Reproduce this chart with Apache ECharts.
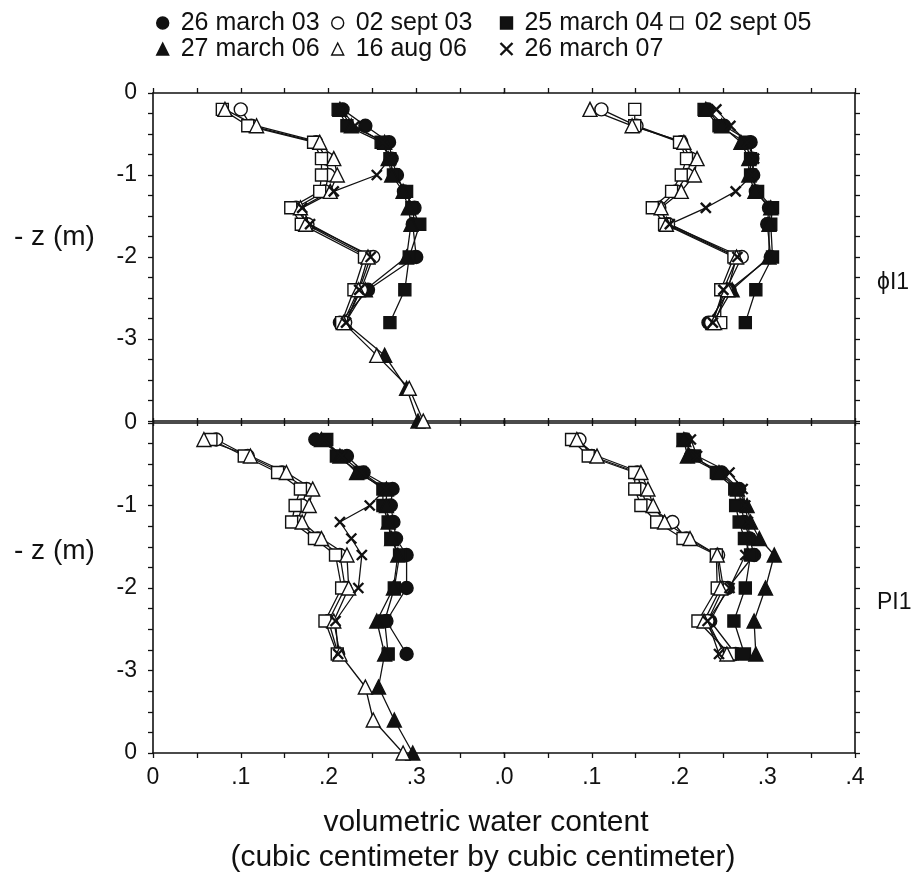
<!DOCTYPE html>
<html>
<head>
<meta charset="utf-8">
<script src="https://cdn.jsdelivr.net/npm/echarts@6/dist/echarts.min.js"></script>
<style>
  html, body { margin: 0; padding: 0; background: #fff; }
  #chart { width: 920px; height: 874px; }
</style>
</head>
<body>
<div id="chart"></div>
<script>
// survey dates (legend order)
const dates = ['26 march 03', '02 sept 03', '25 march 04', '02 sept 05', '27 march 06', '16 aug 06', '26 march 07'];
// probe depths in m
const depths = [0.2, 0.4, 0.6, 0.8, 1.0, 1.2, 1.4, 1.6, 2.0, 2.4, 2.8, 3.2, 3.6, 4.0];
const xTicks = ['0', '.1', '.2', '.3', '.4'];

// volumetric water content, one row per date (same order as dates)
// top panel, left profile
const phiLeft = [
  [0.216, 0.242, 0.269, 0.272, 0.278, 0.286, 0.298, 0.296, 0.300, 0.245, 0.213],
  [0.100, 0.112, 0.186, 0.198, 0.200, 0.196, 0.163, 0.176, 0.251, 0.237, 0.219],
  [0.211, 0.221, 0.260, 0.270, 0.274, 0.289, 0.295, 0.304, 0.292, 0.287, 0.270],
  [0.079, 0.108, 0.183, 0.192, 0.192, 0.190, 0.157, 0.169, 0.241, 0.229, 0.215],
  [0.213, 0.226, 0.264, 0.268, 0.272, 0.285, 0.291, 0.294, 0.289, 0.242, 0.219, 0.264, 0.289, 0.302],
  [0.082, 0.118, 0.190, 0.206, 0.210, 0.202, 0.168, 0.174, 0.245, 0.234, 0.217, 0.255, 0.292, 0.308],
  [0.215, 0.230, 0.262, 0.270, 0.255, 0.206, 0.170, 0.179, 0.248, 0.235, 0.220]
];
// top panel, right profile
const phiRight = [
  [0.232, 0.251, 0.281, 0.283, 0.284, 0.287, 0.302, 0.300, 0.304, 0.257, 0.233],
  [0.111, 0.151, 0.202, 0.213, 0.209, 0.196, 0.177, 0.187, 0.271, 0.253, 0.236],
  [0.228, 0.245, 0.275, 0.281, 0.281, 0.289, 0.306, 0.304, 0.306, 0.287, 0.275],
  [0.149, 0.149, 0.200, 0.208, 0.202, 0.191, 0.169, 0.183, 0.262, 0.247, 0.247],
  [0.230, 0.248, 0.270, 0.279, 0.279, 0.286, 0.304, 0.302, 0.302, 0.260, 0.238],
  [0.098, 0.146, 0.205, 0.220, 0.217, 0.202, 0.179, 0.185, 0.265, 0.255, 0.240],
  [0.242, 0.258, 0.277, 0.285, 0.283, 0.264, 0.230, 0.189, 0.266, 0.250, 0.238]
];
// bottom panel, left profile
const plLeft = [
  [0.185, 0.221, 0.240, 0.273, 0.271, 0.274, 0.277, 0.289, 0.289, 0.266, 0.289],
  [0.072, 0.108, 0.147, 0.175, 0.170, 0.165, 0.188, 0.213, 0.219, 0.200, 0.211],
  [0.198, 0.209, 0.236, 0.262, 0.262, 0.268, 0.271, 0.281, 0.275, 0.264, 0.268],
  [0.066, 0.104, 0.142, 0.168, 0.162, 0.158, 0.184, 0.208, 0.215, 0.196, 0.210],
  [0.192, 0.213, 0.232, 0.266, 0.266, 0.268, 0.272, 0.279, 0.274, 0.255, 0.264, 0.257, 0.275, 0.296],
  [0.058, 0.111, 0.152, 0.182, 0.178, 0.170, 0.192, 0.221, 0.223, 0.206, 0.213, 0.242, 0.251, 0.285],
  [0.195, 0.215, 0.238, 0.265, 0.247, 0.213, 0.226, 0.238, 0.234, 0.208, 0.211]
];
// bottom panel, right profile
const plRight = [
  [0.207, 0.213, 0.248, 0.268, 0.270, 0.274, 0.280, 0.285, 0.255, 0.235, 0.264],
  [0.086, 0.100, 0.152, 0.156, 0.163, 0.192, 0.208, 0.244, 0.250, 0.232, 0.251],
  [0.204, 0.217, 0.242, 0.263, 0.264, 0.268, 0.274, 0.281, 0.275, 0.262, 0.274],
  [0.077, 0.096, 0.149, 0.149, 0.156, 0.174, 0.204, 0.242, 0.243, 0.221, 0.257],
  [0.205, 0.209, 0.245, 0.266, 0.277, 0.281, 0.291, 0.308, 0.298, 0.285, 0.287],
  [0.083, 0.106, 0.156, 0.164, 0.170, 0.183, 0.212, 0.243, 0.247, 0.228, 0.254],
  [0.213, 0.220, 0.257, 0.272, 0.275, 0.278, 0.280, 0.275, 0.257, 0.232, 0.245]
];

const FONT = 'Liberation Sans, Arial, sans-serif';
const INK = '#111';
const cross = 'path://M0,0L10,10M10,0L0,10';

// marker look per date
const marks = [
  { symbol: 'circle', size: 13, fill: INK },
  { symbol: 'circle', size: 13, fill: '#fff' },
  { symbol: 'rect', size: 12, fill: INK },
  { symbol: 'rect', size: 12, fill: '#fff' },
  { symbol: 'triangle', size: 14, fill: INK },
  { symbol: 'triangle', size: 14, fill: '#fff' },
  { symbol: cross, size: 10, fill: 'none' }
];

const profiles = [phiLeft, phiRight, plLeft, plRight];

let chart = echarts.init(document.getElementById('chart'));

const grids = [
  { left: 153, top: 93, width: 351, height: 328 },
  { left: 504, top: 93, width: 351, height: 328 },
  { left: 153, top: 423, width: 351, height: 330 },
  { left: 504, top: 423, width: 351, height: 330 }
];

const tickStyle = { color: INK, width: 1.3 };
const lineStyleAxis = { color: INK, width: 1.6 };

let xAxes = [];
let yAxes = [];
grids.forEach(function (g, gi) {
  let isRight = gi % 2 === 1;
  let isBottom = gi >= 2;
  xAxes.push({
    type: 'value', gridIndex: gi, position: 'bottom', min: 0, max: 0.4, interval: 0.1,
    axisLine: { show: true, onZero: false, lineStyle: lineStyleAxis },
    axisTick: { show: true, length: 5, lineStyle: tickStyle },
    minorTick: { show: true, splitNumber: 2, length: 5, lineStyle: tickStyle },
    splitLine: { show: false },
    axisLabel: {
      show: isBottom, margin: 13, fontSize: 23, color: INK, fontFamily: FONT,
      formatter: function (v) {
        let k = Math.round(v * 10);
        if (!isRight && k === 4) return '';
        if (k === 0) return isRight ? '.0' : '0';
        return xTicks[k];
      }
    }
  });
  xAxes.push({
    type: 'value', gridIndex: gi, position: 'top', min: 0, max: 0.4, interval: 0.1,
    axisLine: { show: true, onZero: false, lineStyle: lineStyleAxis },
    axisTick: { show: true, length: 5, lineStyle: tickStyle },
    minorTick: { show: true, splitNumber: 2, length: 5, lineStyle: tickStyle },
    splitLine: { show: false },
    axisLabel: { show: false }
  });
  yAxes.push({
    type: 'value', gridIndex: gi, position: isRight ? 'right' : 'left', min: -4, max: 0, interval: 1,
    axisLine: { show: true, onZero: false, lineStyle: lineStyleAxis },
    axisTick: { show: true, length: 5, lineStyle: tickStyle },
    minorTick: { show: true, splitNumber: 4, length: 5, lineStyle: tickStyle },
    splitLine: { show: false },
    axisLabel: {
      show: !isRight, margin: 16, fontSize: 23, color: INK, fontFamily: FONT,
      formatter: function (v) {
        if (v === -4) return isBottom ? '0' : '';
        return String(v);
      }
    }
  });
});

let series = [];
profiles.forEach(function (rows, gi) {
  rows.forEach(function (vals, k) {
    let m = marks[k];
    series.push({
      name: dates[k],
      type: 'line',
      xAxisIndex: gi * 2,
      yAxisIndex: gi,
      data: vals.map(function (v, i) { return [v, -depths[i]]; }),
      symbol: m.symbol,
      symbolSize: m.size,
      showAllSymbol: true,
      animation: false,
      z: m.fill === INK ? 3 : 4,
      itemStyle: { color: m.fill, borderColor: INK, borderWidth: k === 6 ? 2.4 : 1.4 },
      lineStyle: { color: INK, width: 1.3 },
      emphasis: { disabled: true }
    });
  });
});

function legendItem(k) {
  let m = marks[k];
  return {
    name: dates[k],
    icon: m.symbol,
    itemStyle: { color: m.fill, borderColor: INK, borderWidth: k === 6 ? 2.4 : 1.4 }
  };
}
// legend laid out in four columns of two rows
const legendCols = [[0, 4], [1, 5], [2, 6], [3]];
const legendLeft = [151, 326, 493, 665];
let legends = legendCols.map(function (col, ci) {
  return {
    orient: 'vertical', left: legendLeft[ci], top: 5, itemGap: 0,
    itemWidth: 12, itemHeight: 12, selectedMode: false,
    formatter: function (name) { return ' ' + name; },
    textStyle: { fontSize: 25, color: INK, fontFamily: FONT, lineHeight: 26 },
    data: col.map(legendItem)
  };
});

let option = {
  backgroundColor: '#fff',
  animation: false,
  legend: legends,
  grid: grids,
  xAxis: xAxes,
  yAxis: yAxes,
  series: series,
  graphic: [
    { type: 'text', left: 14, top: 223, style: { text: '- z (m)', font: '28px ' + FONT, fill: INK } },
    { type: 'text', left: 14, top: 537, style: { text: '- z (m)', font: '28px ' + FONT, fill: INK } },
    { type: 'text', left: 877, top: 271, style: { text: 'ϕI1', font: '23px ' + FONT, fill: INK } },
    { type: 'text', left: 877, top: 591, style: { text: 'PI1', font: '23px ' + FONT, fill: INK } },
    { type: 'text', x: 486, y: 823, style: { text: 'volumetric water content', font: '30px ' + FONT, fill: INK, align: 'center', verticalAlign: 'middle' } },
    { type: 'text', x: 483, y: 858, style: { text: '(cubic centimeter by cubic centimeter)', font: '30px ' + FONT, fill: INK, align: 'center', verticalAlign: 'middle' } }
  ]
};
chart.setOption(option);
</script>
</body>
</html>
